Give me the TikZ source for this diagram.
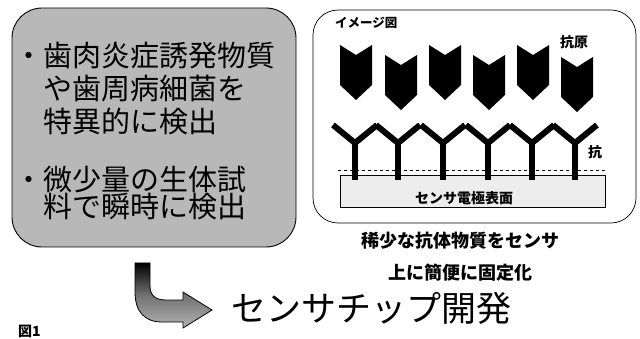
\documentclass[tikz,border=0pt]{standalone}
\usepackage{fontspec}
\setmainfont{Noto Sans CJK JP}
\usetikzlibrary{shapes.geometric}
\begin{document}
\begin{tikzpicture}[x=1pt,y=-1pt,
  panel/.style={draw=black, line width=0.9pt, rounded corners=30pt, inner sep=0pt},
  bigtxt/.style={anchor=west, inner sep=0pt, font=\fontsize{29}{29}\selectfont},
  captxt/.style={inner sep=0pt, font=\fontsize{18}{18}\selectfont\bfseries},
  antigen/.style={fill=black},
  antibody/.style={draw=black, line width=6pt, line join=miter},
]
\useasboundingbox (0,0) rectangle (640,339);
\clip (0,0) rectangle (640,339);

% left panel with the two claims
\node (leftbox) [panel, fill=black!28, minimum width=284pt, minimum height=239pt] at (154,127.5) {};
\node (l1) [bigtxt] at (14,56)  {・歯肉炎症誘発物質};
\node (l2) [bigtxt] at (43,89)  {や歯周病細菌を};
\node (l3) [bigtxt] at (43,121) {特異的に検出};
\node (l4) [bigtxt] at (14,179) {・微少量の生体試};
\node (l5) [bigtxt] at (43,207) {料で瞬時に検出};

% right panel: schematic of antigen / antibody on the electrode
\node (rightbox) [panel, rounded corners=25pt, line width=0.7pt, fill=white, minimum width=323pt, minimum height=213pt] at (474.5,116.5) {};
\node (title) [anchor=west, inner sep=0pt, font=\fontsize{12.5}{12.5}\selectfont\bfseries] at (335,23) {イメージ図};
\node (agl) [inner sep=0pt, font=\fontsize{14}{14}\selectfont\bfseries] at (574,42) {抗原};
\node (abl) [inner sep=0pt, font=\fontsize{14}{14}\selectfont\bfseries] at (595,152) {抗};

% antigens
\foreach \x/\y in {340/45, 385/55, 429/45, 473/55, 517/45, 561/57}{
  \fill[antigen] (\x,\y) -- (\x+16,\y+10) -- (\x+32,\y) -- (\x+32,\y+40)
    -- (\x+16,\y+55) -- (\x,\y+40) -- cycle;
}

% electrode surface
\node (electrode) [draw=black, line width=0.6pt, fill=black!7, minimum width=265pt, minimum height=32pt, inner sep=0pt] at (472.5,191) {};
\node (eltxt) [inner sep=0pt, font=\fontsize{14}{14}\selectfont\bfseries] at (464,198) {センサ電極表面};
\coordinate (dl) at (338,170);
\coordinate (dr) at (607,170);
\draw[dashed, line width=0.7pt] (dl) -- (dr);

% antibodies
\foreach \c in {355,398,443,488,532,575}{
  \draw[antibody] (\c-22,125) -- (\c,143) -- (\c+22,125);
  \draw[antibody] (\c,141) -- (\c,180);
}

% caption under the right panel
\node (cap1) [captxt] at (460,241) {稀少な抗体物質をセンサ};
\node (cap2) [captxt] at (460,273) {上に簡便に固定化};

% bent arrow leading to the result
\shadedraw[draw=black, line width=0.8pt, top color=black, bottom color=black!30, middle color=black!55]
  (135,263) -- (150,263) -- (150,286)
  .. controls (150,295) and (155,300) .. (166,300)
  -- (183,300) -- (183,292) -- (212,310) -- (183,328) -- (183,322)
  -- (162,322) .. controls (145,322) and (135,312) .. (135,292) -- cycle;
\node (result) [anchor=west, inner sep=0pt, font=\fontsize{35}{35}\selectfont] at (231,308) {センサチップ開発};

% figure number
\node (fignum) [anchor=south west, inner sep=0pt, font=\fontsize{14}{14}\selectfont\bfseries] at (18,338) {図1};
\end{tikzpicture}
\end{document}
